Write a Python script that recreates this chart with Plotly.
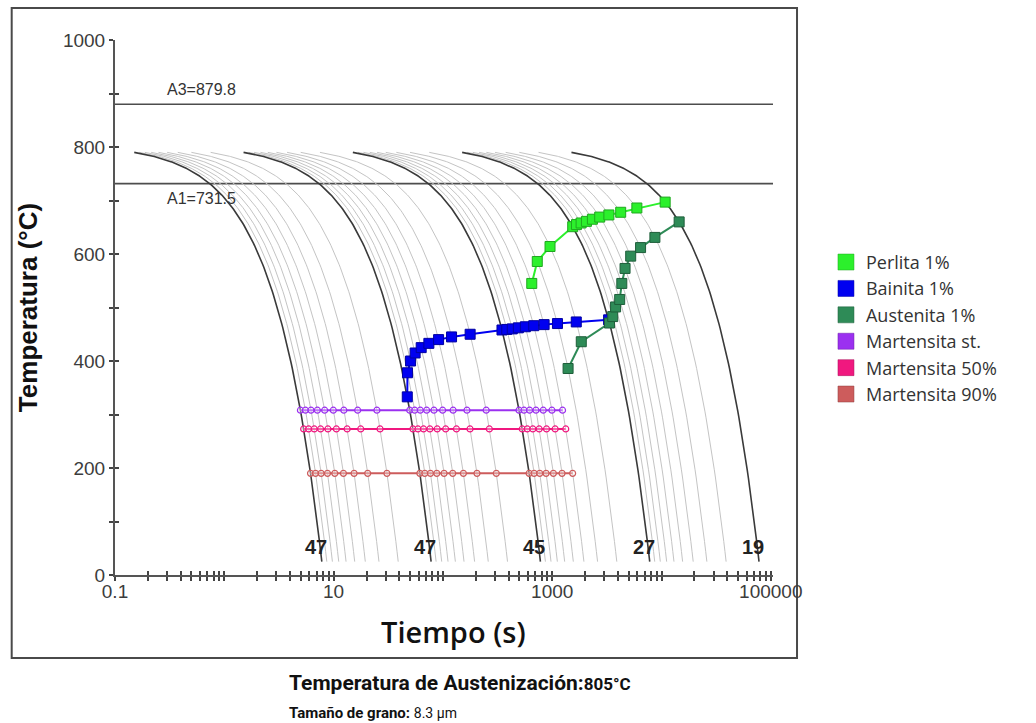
import numpy as np
import plotly.graph_objects as go

# ---------------- data ----------------
T_AUST = 805.0      # austenitising temperature (°C)
T_START = 790.0     # temperature at which the drawn cooling curves start
T_END = 25.0        # temperature at which the drawn cooling curves stop

# cooling rates (°C/s) of the labelled (dark) curves and their hardness labels
dark_rates = [100, 10, 1, 0.1, 0.01]
hardness = ["47", "47", "45", "27", "19"]

# cooling rates of the light grey curves between them
gray_rates = [90, 80, 70, 60, 50, 40, 30, 20,
              9, 8, 7, 6, 5, 4, 3, 2,
              0.9, 0.8, 0.7, 0.6, 0.5, 0.4, 0.3, 0.2,
              0.09, 0.08, 0.07, 0.06, 0.05, 0.04, 0.03, 0.02]

A3 = 879.8
A1 = 731.5

perlita_t = [650, 730, 955, 1540, 1667, 1838, 2057, 2333, 2720, 3300, 4233, 5950, 10800]
perlita_T = [545, 586, 614, 651, 655, 658, 661, 665, 669, 673, 678, 686, 697]

bainita_t = [47.2, 47.4, 50.6, 55.7, 63.3, 74.4, 91.3, 120, 177.5, 347,
             384, 431, 490, 568, 678, 843, 1117, 1660, 3280]
bainita_T = [333, 378, 400, 415, 425, 433, 440, 445, 450, 458,
             459, 460, 462, 464, 466, 468, 470, 473, 477]

austenita_t = [1397, 1845, 3340, 3578, 3800, 4143, 4333, 4640, 5225, 6433, 8700, 14500]
austenita_T = [386, 436, 471, 483, 501, 515, 545, 573, 596, 612, 631, 660]

ms_T = 308
ms_t = [4.97, 5.52, 6.21, 7.10, 8.28, 9.94, 12.4, 16.6, 24.9, 49.7, 55.2, 62.1, 71.0,
        82.8, 99.4, 124, 166, 249, 497, 552, 621, 710, 828, 994, 1243]
m50_T = 273
m50_t = [5.32, 5.91, 6.65, 7.60, 8.87, 10.6, 13.3, 17.7, 26.6, 53.2, 59.1, 66.5, 76.0,
         88.7, 106, 133, 177, 266, 532, 591, 665, 760, 887, 1064, 1330]
m90_T = 190
m90_t = [6.15, 6.83, 7.69, 8.79, 10.25, 12.3, 15.4, 20.5, 30.75, 61.5, 68.3, 76.9, 87.9,
         102.5, 123, 154, 205, 308, 615, 683, 769, 879, 1025, 1230, 1538]

x_tick_labels = {0.1: "0.1", 10: "10", 1000: "1000", 100000: "100000"}
y_tick_labels = [0, 200, 400, 600, 800, 1000]

series_names = ["Perlita 1%", "Bainita 1%", "Austenita 1%",
                "Martensita st.", "Martensita 50%", "Martensita 90%"]
series_colors = ["#2CF02C", "#0000F0", "#2E8B57", "#9B30F0", "#F0187F", "#CD5C5C"]
series_edges = ["#1FA81F", "#0000A0", "#1E5E3A", "#6A1FA8", "#A8105A", "#8E3C3C"]

# ---------------- figure ----------------
fig = go.Figure()


def cooling_curve(rate):
    t = np.geomspace((T_AUST - T_START) / rate, (T_AUST - T_END) / rate, 160)
    return t, T_AUST - rate * t


for r in gray_rates:
    t, T = cooling_curve(r)
    fig.add_trace(go.Scatter(x=t, y=T, mode="lines", line=dict(color="#C4C4C4", width=1),
                             showlegend=False, hoverinfo="skip"))
for r in dark_rates:
    t, T = cooling_curve(r)
    fig.add_trace(go.Scatter(x=t, y=T, mode="lines", line=dict(color="#3A3A3A", width=1.6),
                             showlegend=False, hoverinfo="skip"))

# hardness labels at the foot of the dark curves
for r, h in zip(dark_rates, hardness):
    fig.add_annotation(x=np.log10((T_AUST - T_END) / r), y=52, text="<b>%s</b>" % h,
                       showarrow=False, xshift=-6, yanchor="middle",
                       font=dict(family="Liberation Sans", size=20, color="#222"))

# martensite lines
for tt, TT, c, e in [(ms_t, ms_T, series_colors[3], series_edges[3]),
                     (m50_t, m50_T, series_colors[4], series_edges[4]),
                     (m90_t, m90_T, series_colors[5], series_edges[5])]:
    fig.add_trace(go.Scatter(x=tt, y=[TT] * len(tt), mode="lines+markers",
                             line=dict(color=c, width=2),
                             marker=dict(symbol="circle", size=6, color="rgba(255,255,255,0.35)",
                                         line=dict(color=c, width=1.2)),
                             showlegend=False))

# transformation curves
for tt, TT, c, e in [(bainita_t, bainita_T, series_colors[1], series_edges[1]),
                     (austenita_t, austenita_T, series_colors[2], series_edges[2]),
                     (perlita_t, perlita_T, series_colors[0], series_edges[0])]:
    fig.add_trace(go.Scatter(x=tt, y=TT, mode="lines+markers",
                             line=dict(color=c, width=2),
                             marker=dict(symbol="square", size=10, color=c,
                                         line=dict(color=e, width=1)),
                             showlegend=False))

# legend entries (square swatches)
for name, c, e in zip(series_names, series_colors, series_edges):
    fig.add_trace(go.Scatter(x=[None], y=[None], mode="markers", name=name,
                             marker=dict(symbol="square", size=16, color=c,
                                         line=dict(color=e, width=0.5))))

# overlay axes used only to draw the inner half of the crossing ticks
fig.add_trace(go.Scatter(x=[None], y=[None], xaxis="x2", yaxis="y2", showlegend=False,
                         hoverinfo="skip"))

# A3 / A1 lines
fig.add_hline(y=A3, line=dict(color="#4D4D4D", width=1.6), layer="below")
fig.add_hline(y=A1, line=dict(color="#4D4D4D", width=1.6), layer="below")
fig.add_annotation(xref="paper", x=0.076, y=A3, yshift=15, text="A3=879.8", showarrow=False,
                   xanchor="left", yanchor="middle",
                   font=dict(family="Liberation Sans", size=16, color="#333"))
fig.add_annotation(xref="paper", x=0.076, y=A1, yshift=-15, text="A1=731.5", showarrow=False,
                   xanchor="left", yanchor="middle",
                   font=dict(family="Liberation Sans", size=16, color="#333"))

# outer frame
fig.add_shape(type="rect", xref="paper", yref="paper", x0=-0.157, x1=1.0365, y0=-0.155, y1=1.06,
              line=dict(color="#4A4A4A", width=2), layer="below")

# axis title for time (placed as in the reference)
fig.add_annotation(xref="paper", yref="paper", x=0.514, y=-0.1065, xanchor="center",
                   yanchor="middle", showarrow=False, text="Tiempo (s)",
                   font=dict(family="Open Sans", size=29, color="#111", weight=600))

# bottom notes
fig.add_annotation(xref="paper", yref="paper", x=0.261, y=-0.2019, xanchor="left",
                   yanchor="middle", showarrow=False,
                   text="<b>Temperatura de Austenización:</b><span style='font-size:17px'><b>805°C</b></span>",
                   font=dict(family="Roboto", size=21, color="#111"))
fig.add_annotation(xref="paper", yref="paper", x=0.261, y=-0.258, xanchor="left",
                   yanchor="middle", showarrow=False,
                   text="<b>Tamaño de grano:</b> <span style='font-size:14px'>8.3 μm</span>",
                   font=dict(family="Roboto", size=15, color="#111"))

# ticks
x_ticks = []
for d in range(-1, 5):
    for m in range(1, 10):
        x_ticks.append(m * 10.0 ** d)
x_ticks.append(100000)
x_text = []
for v in x_ticks:
    lab = ""
    for k, s in x_tick_labels.items():
        if abs(v - k) / k < 1e-9:
            lab = s
    x_text.append(lab)
y_ticks = list(range(0, 1001, 100))
y_text = [str(v) if v in y_tick_labels else "" for v in y_ticks]

tickfont = dict(family="Liberation Sans", size=19, color="#3C3C3C")
x_range = [-1, 5.02]
fig.update_layout(
    width=1036, height=723,
    margin=dict(l=115, r=263, t=40, b=148),
    paper_bgcolor="white", plot_bgcolor="white",
    showlegend=True,
    legend=dict(x=1.0805, y=0.619, xanchor="left", yanchor="top",
                font=dict(family="Open Sans", size=18, color="#333"),
                itemwidth=30, tracegroupgap=0, bgcolor="rgba(0,0,0,0)"),
    xaxis=dict(type="log", range=x_range, showgrid=False, zeroline=False,
               showline=True, linecolor="#555", linewidth=2,
               tickmode="array", tickvals=x_ticks, ticktext=x_text,
               ticks="outside", ticklen=4, tickwidth=1.5, tickcolor="#444",
               tickfont=tickfont, ticklabelstandoff=-6),
    xaxis2=dict(type="log", range=x_range, overlaying="x", anchor="y", showgrid=False,
                zeroline=False, showline=False, tickmode="array", tickvals=x_ticks,
                ticks="inside", ticklen=4, tickwidth=1.5, tickcolor="#444",
                showticklabels=False),
    yaxis=dict(range=[0, 1000], showgrid=False, zeroline=False,
               showline=True, linecolor="#555", linewidth=2,
               tickmode="array", tickvals=y_ticks, ticktext=y_text,
               ticks="outside", ticklen=4, tickwidth=1.5, tickcolor="#444",
               tickfont=tickfont,
               title=dict(text="Temperatura (°C)", standoff=18,
                          font=dict(family="Liberation Sans", size=26, color="#111", weight="bold"))),
    yaxis2=dict(range=[0, 1000], overlaying="y", anchor="x", side="left", showgrid=False,
                zeroline=False, showline=False, tickmode="array", tickvals=y_ticks,
                ticks="inside", ticklen=4, tickwidth=1.5, tickcolor="#444",
                showticklabels=False),
)

fig.write_html("out.html")
